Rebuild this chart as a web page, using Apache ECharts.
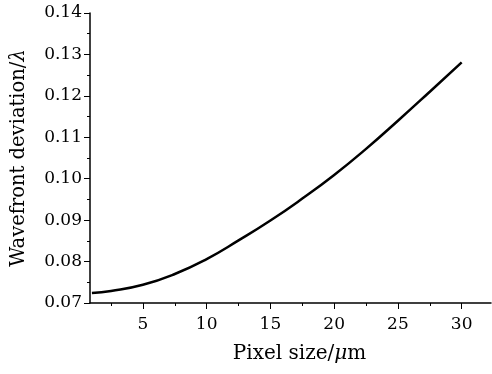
<!DOCTYPE html>
<html>
<head>
<meta charset="utf-8">
<script src="https://cdn.jsdelivr.net/npm/echarts@6/dist/echarts.min.js"></script>
<style>html,body{margin:0;padding:0;background:#fff}#c{width:492px;height:374px}</style>
</head>
<body>
<div id="c"></div>
<script>
const pixelSize = [1, 2.5, 5, 7.5, 10, 12.5, 15, 17.5, 20, 22.5, 25, 27.5, 30];
const deviation = [0.0724, 0.0729, 0.0744, 0.0770, 0.0806, 0.0851, 0.0899, 0.0952, 0.1009, 0.1072, 0.1140, 0.1210, 0.1281];
const xMajorTicks = [5, 10, 15, 20, 25, 30];
const xMinorTicks = [2.5, 7.5, 12.5, 17.5, 22.5, 27.5];

const FONT = 'DejaVu Serif';
const XMIN = 0.85, XMAX = 32.3;
const chart = echarts.init(document.getElementById('c'), null, {renderer: 'canvas'});
chart.setOption({
  animation: false,
  backgroundColor: '#fff',
  grid: {left: 90, right: 1, top: 13, bottom: 71, containLabel: false},
  xAxis: [{
    type: 'value', min: XMIN, max: XMAX,
    name: '{r|Pixel size/}{i|μ}{r|m}', nameLocation: 'middle', nameGap: 41,
    nameTextStyle: {padding: [0, 0, 0, 18], rich: {
      r: {fontFamily: FONT, fontSize: 20, color: '#000'},
      i: {fontFamily: FONT, fontSize: 20, fontStyle: 'italic', color: '#000'}
    }},
    axisLine: {show: true, lineStyle: {color: '#000', width: 1.5}},
    axisTick: {show: true, inside: false, length: 6, customValues: xMajorTicks, lineStyle: {color: '#000', width: 1}},
    axisLabel: {show: true, margin: 13, customValues: xMajorTicks, fontFamily: FONT, fontSize: 17, color: '#000'},
    splitLine: {show: false}
  }, {
    type: 'value', min: XMIN, max: XMAX, position: 'bottom',
    axisLine: {show: false},
    axisTick: {show: true, inside: false, length: 3, customValues: xMinorTicks, lineStyle: {color: '#000', width: 1}},
    axisLabel: {show: false},
    splitLine: {show: false}
  }],
  yAxis: {
    type: 'value', min: 0.07, max: 0.14, interval: 0.01,
    name: '{r|Wavefront deviation/}{i|λ}', nameLocation: 'middle', nameGap: 61, nameRotate: 90,
    nameTextStyle: {rich: {
      r: {fontFamily: FONT, fontSize: 19.5, color: '#000'},
      i: {fontFamily: FONT, fontSize: 19.5, fontStyle: 'italic', color: '#000'}
    }},
    axisLine: {show: true, lineStyle: {color: '#000', width: 1.5}},
    axisTick: {show: true, inside: false, length: 6, lineStyle: {color: '#000', width: 1}},
    minorTick: {show: true, splitNumber: 2, length: 3, lineStyle: {color: '#000', width: 1}},
    axisLabel: {margin: 8, fontFamily: FONT, fontSize: 17, color: '#000',
      formatter: v => v.toFixed(2)},
    splitLine: {show: false}
  },
  series: [{
    type: 'line', xAxisIndex: 0, smooth: true, showSymbol: false,
    lineStyle: {color: '#000', width: 2.5},
    data: pixelSize.map((x, i) => [x, deviation[i]])
  }]
});
</script>
</body>
</html>
